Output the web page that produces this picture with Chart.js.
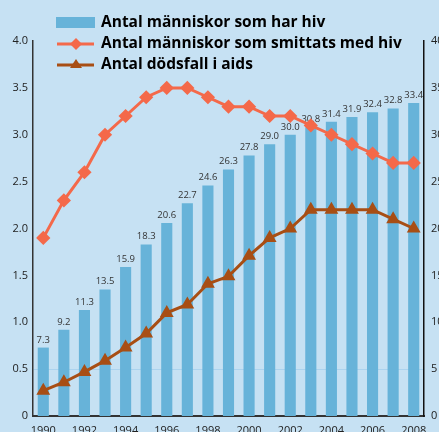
<!DOCTYPE html>
<html>
<head>
<meta charset="utf-8">
<script src="https://cdn.jsdelivr.net/npm/chart.js@4.4.1/dist/chart.umd.min.js"></script>
<style>
  html, body { margin: 0; padding: 0; background: #c6e1f3; overflow: hidden; }
  #wrap { width: 454px; height: 441px; }
</style>
</head>
<body>
<div id="wrap"><canvas id="chart" width="454" height="441"></canvas></div>
<script>
const years = ['1990','1991','1992','1993','1994','1995','1996','1997','1998','1999',
               '2000','2001','2002','2003','2004','2005','2006','2007','2008'];
const livingWithHiv = [7.3, 9.2, 11.3, 13.5, 15.9, 18.3, 20.6, 22.7, 24.6, 26.3,
                       27.8, 29.0, 30.0, 30.8, 31.4, 31.9, 32.4, 32.8, 33.4];
const newlyInfected = [1.9, 2.3, 2.6, 3.0, 3.2, 3.4, 3.5, 3.5, 3.4, 3.3,
                       3.3, 3.2, 3.2, 3.1, 3.0, 2.9, 2.8, 2.7, 2.7];
const aidsDeaths = [0.27, 0.36, 0.47, 0.59, 0.73, 0.88, 1.1, 1.19, 1.41, 1.49,
                    1.71, 1.9, 2.0, 2.2, 2.2, 2.2, 2.2, 2.1, 2.0];
const legendLabels = ['Antal människor som har hiv',
                      'Antal människor som smittats med hiv',
                      'Antal dödsfall i aids'];

const BAR = '#67b3d9';
const ORANGE = '#f4694a';
const BROWN = '#a84e14';
const FONT = '"Open Sans", sans-serif';

// value labels above the bars (drawn right after the bars, under the lines)
const barLabels = {
  id: 'barLabels',
  afterDatasetDraw(chart, args) {
    if (args.index !== 2) return;
    const ctx = chart.ctx;
    ctx.save();
    ctx.font = '9.5px ' + FONT;
    ctx.fillStyle = '#333';
    ctx.textAlign = 'center';
    ctx.textBaseline = 'bottom';
    args.meta.data.forEach((el, i) => {
      ctx.fillText(livingWithHiv[i].toFixed(1), el.x, el.y - 3);
    });
    ctx.restore();
  }
};

// legend drawn at the top-left
const topLegend = {
  id: 'topLegend',
  afterDraw(chart) {
    const ctx = chart.ctx;
    ctx.save();
    ctx.textBaseline = 'middle';
    // row 1: bar swatch
    ctx.fillStyle = BAR;
    ctx.fillRect(56, 17, 39, 11);
    // row 2: orange line with diamond
    ctx.strokeStyle = ORANGE;
    ctx.lineWidth = 3;
    ctx.beginPath(); ctx.moveTo(57, 44); ctx.lineTo(94, 44); ctx.stroke();
    ctx.fillStyle = ORANGE;
    ctx.beginPath();
    ctx.moveTo(76, 38); ctx.lineTo(82, 44); ctx.lineTo(76, 50); ctx.lineTo(70, 44);
    ctx.closePath(); ctx.fill();
    // row 3: brown line with triangle
    ctx.strokeStyle = BROWN;
    ctx.beginPath(); ctx.moveTo(57, 65); ctx.lineTo(94, 65); ctx.stroke();
    ctx.fillStyle = BROWN;
    ctx.beginPath();
    ctx.moveTo(76, 59); ctx.lineTo(82, 68); ctx.lineTo(70, 68);
    ctx.closePath(); ctx.fill();
    ctx.font = 'bold 15.5px ' + FONT;
    ctx.fillStyle = '#000';
    ctx.fillText(legendLabels[0], 101, 23);
    ctx.fillText(legendLabels[1], 101, 44);
    ctx.fillText(legendLabels[2], 101, 65);
    ctx.restore();
  }
};

new Chart(document.getElementById('chart'), {
  data: {
    labels: years,
    datasets: [
      {
        type: 'line',
        label: legendLabels[1],
        data: newlyInfected,
        yAxisID: 'y',
        borderColor: ORANGE,
        backgroundColor: ORANGE,
        borderWidth: 3,
        pointStyle: 'rectRot',
        pointRadius: 5,
        tension: 0,
        order: 0
      },
      {
        type: 'line',
        label: legendLabels[2],
        data: aidsDeaths,
        yAxisID: 'y',
        borderColor: BROWN,
        backgroundColor: BROWN,
        borderWidth: 3,
        pointStyle: 'triangle',
        pointRadius: 5,
        tension: 0,
        order: 1
      },
      {
        type: 'bar',
        label: legendLabels[0],
        data: livingWithHiv,
        yAxisID: 'y1',
        backgroundColor: BAR,
        barPercentage: 0.54,
        categoryPercentage: 1,
        order: 2
      }
    ]
  },
  options: {
    responsive: false,
    animation: false,
    layout: { padding: { top: 41, left: 0, right: 0, bottom: 0 } },
    plugins: { legend: { display: false }, tooltip: { enabled: false } },
    scales: {
      x: {
        grid: { display: false, drawTicks: false },
        border: { color: '#333', width: 2 },
        ticks: {
          color: '#222', font: { family: FONT, size: 11 }, padding: 8,
          maxRotation: 0, autoSkip: false,
          callback: (v, i) => (i % 2 === 0 ? years[i] : '')
        },
        afterFit: s => { s.height = 25; }
      },
      y: {
        position: 'left', min: 0, max: 4,
        grid: {
          drawTicks: false,
          color: c => (c.tick && c.tick.value === 0.5 ? '#acd3ee' : 'rgba(0,0,0,0)')
        },
        border: { color: '#333', width: 1.5 },
        ticks: {
          stepSize: 0.5, color: '#222', font: { family: FONT, size: 11 }, padding: 5,
          callback: v => (v === 0 ? '0' : v.toFixed(1))
        },
        afterFit: s => { s.width = 33; }
      },
      y1: {
        position: 'right', min: 0, max: 40,
        grid: { display: false, drawTicks: false },
        border: { color: '#111', width: 1.5 },
        ticks: {
          stepSize: 5, color: '#222', font: { family: FONT, size: 11 }, padding: 7
        },
        afterFit: s => { s.width = 30; }
      }
    }
  },
  plugins: [barLabels, topLegend]
});
</script>
</body>
</html>
